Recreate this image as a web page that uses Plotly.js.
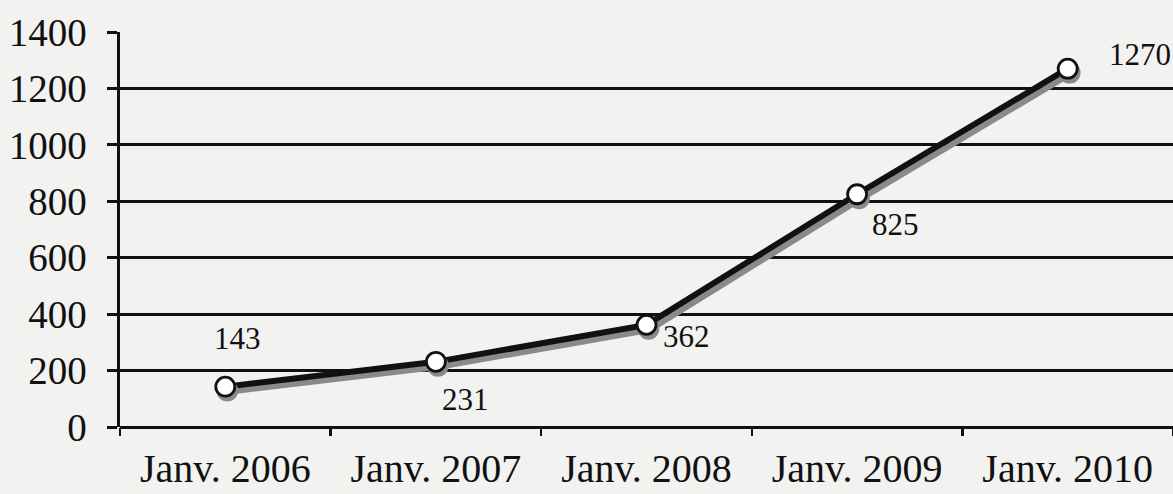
<!DOCTYPE html>
<html>
<head>
<meta charset="utf-8">
<script src="https://cdn.plot.ly/plotly-3.0.1.min.js"></script>
<style>
html,body{margin:0;padding:0;background:#f2f2f0;}
#chart{width:1173px;height:494px;}
</style>
</head>
<body>
<div id="chart"></div>
<script>
const categories = ["Janv. 2006", "Janv. 2007", "Janv. 2008", "Janv. 2009", "Janv. 2010"];
const values = [143, 231, 362, 825, 1270];
const yTicks = [0, 200, 400, 600, 800, 1000, 1200, 1400];

// label offsets (pixels) relative to each point
const labelShift = [
  {x: 12, y: 48},
  {x: 30, y: -38},
  {x: 40, y: -12},
  {x: 38, y: -30},
  {x: 72, y: 14}
];

const font = {family: "Liberation Serif, Times New Roman, serif", color: "#111"};

const trace = {
  x: categories,
  y: values,
  type: "scatter",
  mode: "lines+markers",
  line: {color: "#111", width: 6},
  marker: {size: 19, color: "#ffffff", line: {color: "#111", width: 2.8}},
  hoverinfo: "skip",
  cliponaxis: false
};

const annotations = values.map((v, i) => ({
  x: categories[i], y: v, text: String(v),
  showarrow: false, xshift: labelShift[i].x, yshift: labelShift[i].y,
  font: Object.assign({size: 31}, font)
}));

const layout = {
  width: 1173, height: 494,
  margin: {l: 120, r: 0, t: 32, b: 67},
  paper_bgcolor: "#f2f2f0",
  plot_bgcolor: "#f2f2f0",
  showlegend: false,
  font: font,
  xaxis: {
    type: "category",
    range: [-0.5, 4.5],
    tickson: "boundaries",
    ticks: "outside", ticklen: 8, tickwidth: 2.5, tickcolor: "#111",
    showgrid: false, showline: false, zeroline: false,
    tickfont: Object.assign({size: 40}, font),
    ticklabelstandoff: 14
  },
  yaxis: {
    range: [0, 1400],
    tickvals: yTicks,
    ticktext: yTicks.map(String),
    ticks: "outside", ticklen: 10, tickwidth: 3, tickcolor: "#111",
    showline: true, linecolor: "#111", linewidth: 3.5,
    showgrid: true, gridcolor: "#111", gridwidth: 3,
    zeroline: true, zerolinecolor: "#111", zerolinewidth: 3,
    tickfont: Object.assign({size: 39}, font),
    ticklabelstandoff: 12
  },
  annotations: annotations
};

Plotly.newPlot("chart", [trace], layout, {displayModeBar: false, staticPlot: true}).then(() => {
  document.querySelectorAll(".scatterlayer .trace path.js-line").forEach(p => {
    p.style.filter = "drop-shadow(3px 5px 0px #8a8a8a)";
  });
  document.querySelectorAll(".scatterlayer .trace .points path").forEach(p => {
    p.style.filter = "drop-shadow(2px 4px 0px #8a8a8a)";
  });
});
</script>
</body>
</html>
